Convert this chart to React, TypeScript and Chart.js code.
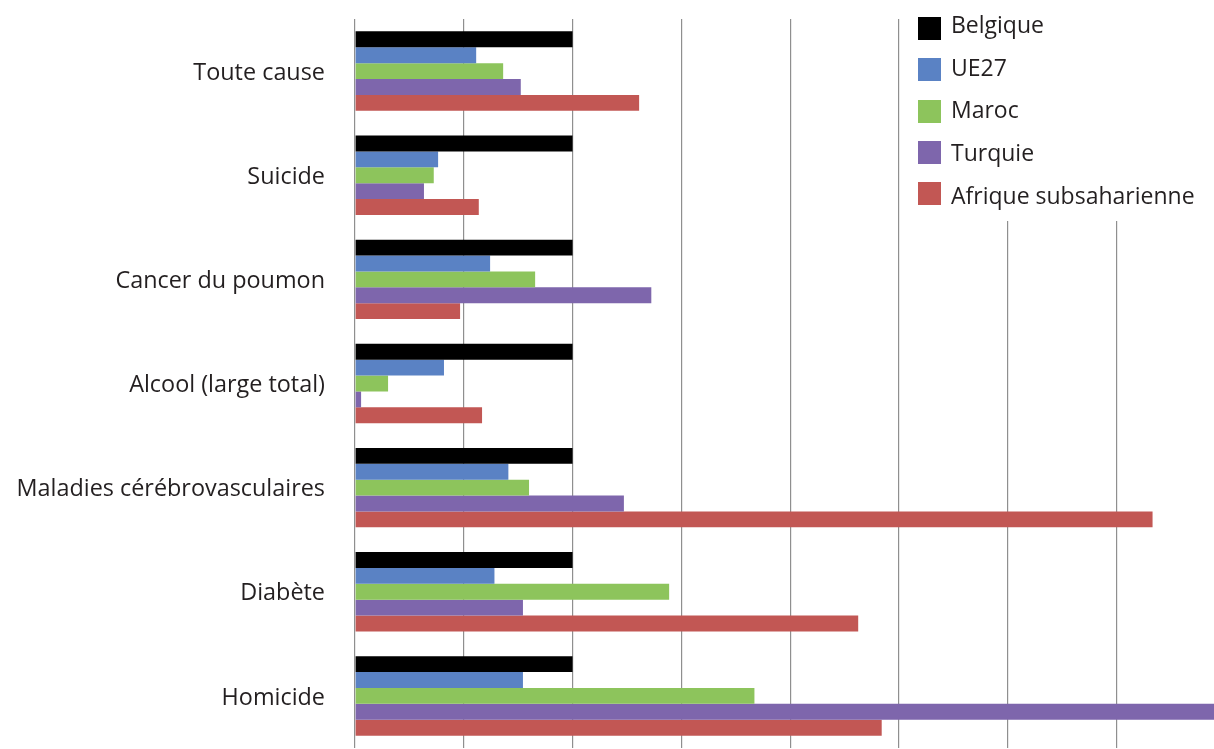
import React, { useEffect, useRef } from "react";
import { Chart, registerables } from "chart.js";

Chart.register(...registerables);

const categories = [
  "Toute cause",
  "Suicide",
  "Cancer du poumon",
  "Alcool (large total)",
  "Maladies cérébrovasculaires",
  "Diabète",
  "Homicide",
];

const seriesNames = ["Belgique", "UE27", "Maroc", "Turquie", "Afrique subsaharienne"];
const seriesColors = ["#000000", "#5A82C4", "#8DC45C", "#7E66AC", "#C25754"];

const belgique = [1, 1, 1, 1, 1, 1, 1];
const ue27 = [0.557, 0.382, 0.621, 0.409, 0.705, 0.641, 0.772];
const maroc = [0.681, 0.362, 0.828, 0.152, 0.8, 1.444, 1.836];
const turquie = [0.762, 0.317, 1.362, 0.028, 1.236, 0.772, 4.2];
const afrique = [1.306, 0.569, 0.483, 0.584, 3.666, 2.313, 2.421];

const seriesValues = [belgique, ue27, maroc, turquie, afrique];

const xMax = 4.5;
const xStep = 0.5;

const FONT = "'Open Sans', 'Noto Sans', sans-serif";
const TEXT_COLOR = "#231f20";

const legendPlugin = {
  id: "customLegend",
  afterDraw(chart: any) {
    const ctx = chart.ctx as CanvasRenderingContext2D;
    ctx.save();
    ctx.fillStyle = "#ffffff";
    ctx.fillRect(905, 0, chart.width - 905, 221);
    ctx.font = `23px ${FONT}`;
    ctx.textAlign = "left";
    ctx.textBaseline = "alphabetic";
    seriesNames.forEach((name, i) => {
      const top = 17 + i * 41.3;
      ctx.fillStyle = seriesColors[i];
      ctx.fillRect(918, Math.round(top), 23, 23);
      ctx.fillStyle = TEXT_COLOR;
      ctx.fillText(name, 951, 33 + i * 42.7);
    });
    ctx.restore();
  },
};

export default function App() {
  const ref = useRef<HTMLCanvasElement | null>(null);

  useEffect(() => {
    if (!ref.current) return;
    const chart = new Chart(ref.current, {
      type: "bar",
      data: {
        labels: categories,
        datasets: seriesNames.map((name, i) => ({
          label: name,
          data: seriesValues[i],
          backgroundColor: seriesColors[i],
          borderWidth: 0,
          categoryPercentage: 0.763,
          barPercentage: 1,
        })),
      },
      options: {
        indexAxis: "y",
        responsive: false,
        animation: false,
        layout: { padding: { top: 19, bottom: 1, left: 0, right: 0 } },
        plugins: {
          legend: { display: false },
          tooltip: { enabled: false },
        },
        scales: {
          x: {
            min: 0,
            max: xMax,
            afterFit: (scale: any) => {
              scale.height = 0;
              scale.paddingLeft = 0;
              scale.paddingRight = 0;
            },
            ticks: { display: false, stepSize: xStep },
            grid: { color: "#8f8f8f", lineWidth: 1.2, drawTicks: false },
            border: { display: false },
          },
          y: {
            afterFit: (scale: any) => {
              scale.width = 355;
              scale.paddingTop = 0;
              scale.paddingBottom = 0;
            },
            ticks: {
              color: TEXT_COLOR,
              font: { family: FONT, size: 23.4 },
              padding: 30,
              labelOffset: 2,
            },
            grid: { display: false, drawTicks: false },
            border: { display: false },
          },
        },
      },
      plugins: [legendPlugin],
    });
    return () => chart.destroy();
  }, []);

  return (
    <div
      style={{
        position: "fixed",
        left: 0,
        top: 0,
        width: 1214,
        height: 749,
        overflow: "hidden",
        background: "#ffffff",
      }}
    >
      <canvas ref={ref} width={1334} height={749} style={{ display: "block" }} />
    </div>
  );
}
